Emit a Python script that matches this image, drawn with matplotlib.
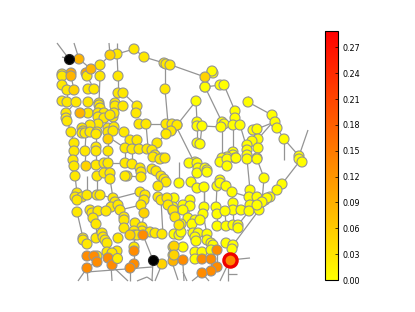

import numpy as np
import matplotlib
matplotlib.use("Agg")
import matplotlib.pyplot as plt
from matplotlib.collections import LineCollection
from matplotlib.cm import ScalarMappable
from matplotlib.colors import Normalize

VMAX = 0.289
cbar_ticks = [0.00, 0.03, 0.06, 0.09, 0.12, 0.15, 0.18, 0.21, 0.24, 0.27]

# Nodes by colour band, in map units (x right, y down)
under_val = 0.10
under_x = [71, 86]
under_y = [73, 73]

bright_val = 0.002
bright_x = [205, 212, 213, 212, 205, 220, 224, 196, 248, 235, 272, 275, 277, 284, 235, 222, 224, 221,
            233, 240, 197, 197, 202, 177, 172, 172, 253, 257, 258, 252, 247, 258, 247, 247, 257,
            197, 200, 233, 233, 235, 227, 222, 299, 195, 189, 197, 198, 197, 205, 207, 207,
            220, 227, 236, 247, 257, 227, 179, 191, 197, 204, 217, 220, 220, 226, 232, 264, 250,
            282, 277, 299, 302, 174, 173, 173, 190, 183, 190, 183, 204, 216, 203, 217, 233, 233,
            225, 241, 249, 257, 250, 249, 259, 265, 270, 267, 262, 257, 188, 195, 192, 200, 181,
            217, 226, 233, 238, 238, 174, 179, 181, 193, 198, 195, 196, 207, 207, 211, 213, 226,
            233, 232, 173, 183, 195, 202, 211, 173, 195]
bright_y = [87, 72, 73, 71, 87, 85, 85, 101, 102, 111, 115, 122, 128, 139, 118, 122, 124, 127,
            125, 125, 122, 126, 126, 125, 125, 129, 130, 129, 139, 141, 145, 148, 150, 155, 158,
            143, 144, 152, 155, 158, 157, 158, 156, 162, 163, 163, 168, 173, 168, 170, 172,
            162, 159, 158, 159, 159, 166, 183, 182, 188, 187, 186, 180, 183, 186, 192, 178, 190,
            184, 190, 159, 162, 198, 207, 211, 200, 205, 206, 210, 207, 207, 214, 214, 203, 210,
            211, 210, 197, 197, 205, 211, 210, 200, 197, 198, 202, 205, 218, 220, 224, 220, 224,
            226, 226, 225, 225, 228, 234, 235, 232, 233, 233, 237, 241, 234, 240, 243, 245, 243,
            245, 249, 247, 247, 252, 252, 250, 255, 259]

yellow_val = 0.026
yellow_x = [62, 62, 87, 100, 100, 117, 134, 144, 164, 166, 170, 118, 62, 67, 88, 94, 165, 118, 123,
            62, 67, 76, 88, 99, 99, 100, 115, 115, 123, 137, 136, 66, 88, 98, 104, 98, 104, 113,
            114, 110, 66, 67, 139, 146, 166, 172, 177, 171, 166, 98, 90, 108, 114, 108, 113,
            82, 83, 82, 85, 90, 97, 96, 71, 124, 130, 137, 157, 74, 74, 85, 96, 96, 108, 125,
            132, 139, 147, 152, 155, 153, 162, 160, 165, 73, 74, 96, 104, 108, 125, 132, 140, 141,
            152, 156, 75, 97, 104, 110, 110, 127, 125, 141, 161, 164, 166, 158, 77, 75, 82, 77,
            87, 97, 100, 140, 145, 144, 141, 158, 161, 167, 113, 115, 111, 118, 120, 124, 124,
            77, 90, 92, 98, 106, 93, 96, 168, 173, 175, 135, 124, 142, 142, 134, 134, 137, 150,
            155, 162, 179, 83, 83, 87, 96, 102, 103, 105, 107, 118, 134, 107, 117, 112, 97]
yellow_y = [74, 76, 76, 65, 76, 54, 49, 57, 63, 64, 65, 76, 85, 90, 89, 89, 89, 93, 93,
            101, 102, 102, 102, 103, 105, 108, 103, 106, 106, 106, 113, 113, 113, 113, 113, 117, 118, 117,
            113, 115, 118, 121, 124, 124, 124, 124, 125, 131, 134, 124, 125, 128, 127, 132, 131,
            128, 131, 133, 133, 132, 132, 134, 132, 132, 140, 140, 143, 143, 151, 151, 147, 151, 151, 148,
            149, 149, 149, 150, 155, 157, 158, 159, 158, 160, 166, 165, 163, 163, 163, 164, 168, 172,
            169, 171, 176, 176, 173, 173, 179, 176, 176, 177, 176, 179, 182, 186, 193, 197, 197, 200,
            195, 195, 195, 192, 195, 200, 205, 197, 200, 198, 198, 202, 207, 205, 210, 217, 220,
            212, 210, 213, 211, 211, 218, 224, 205, 210, 217, 223, 228, 227, 231, 231, 235, 235, 232,
            233, 234, 225, 238, 240, 244, 238, 233, 237, 240, 243, 238, 247, 252, 251, 253, 256]

deep_val = 0.085
deep_x = [79, 91, 80, 173, 71]
deep_y = [59, 69, 113, 261, 76]

amber_val = 0.05
amber_x = [110, 74, 108, 205, 86, 144, 130, 174, 162, 174]
amber_y = [55, 90, 139, 77, 166, 213, 235, 246, 264, 255]

orange_val = 0.13
orange_x = [143, 134, 87, 94, 97, 108, 112, 87, 134, 130, 183, 202, 211, 217, 217, 211, 202]
orange_y = [235, 251, 256, 256, 262, 258, 265, 268, 264, 268, 260, 259, 259, 250, 267, 271, 273]

# Yellow node that sits over the orange ones
top_val = 0.02
top_x = [117]
top_y = [258]

# Nodes with no score, drawn black
black_x = [69, 153]
black_y = [59, 260]

# The highlighted source node
hub_x = [230]
hub_y = [260]
hub_val = [0.135]

# Edges as start and end points
edge_x0 = [57, 74, 109, 117, 117, 134, 144, 100, 79, 117, 100, 91, 87, 71, 165, 165, 123, 118, 137, 146, 146,
           100, 88, 80, 88, 67, 62, 67, 76, 71, 71, 74, 85, 96, 108, 108, 113, 124, 157, 171, 205, 205, 205, 212,
           205, 224, 196, 196, 248, 248, 235, 272, 277, 284, 284, 299, 202, 222, 233, 240, 257, 258, 178, 197, 202,
           258, 257, 264, 247, 250, 299, 282, 277, 259, 249, 207, 217, 216, 204, 191, 197, 179, 204, 217, 232, 226,
           232, 190, 233, 225, 230, 230, 230, 228, 228, 217, 211, 202, 202, 183, 173, 211, 217, 87, 87, 96, 87, 111,
           111, 153, 153, 162, 130, 134, 134, 77, 96, 100, 117, 120, 127, 108, 110, 77, 87, 97, 141, 144, 161, 175,
           74, 86, 96, 108, 125, 132, 141, 150, 134, 179, 187, 69, 137, 147, 183]
edge_y0 = [43, 43, 43, 43, 54, 49, 57, 65, 59, 54, 76, 69, 76, 76, 64, 89, 93, 76, 106, 124, 124,
           76, 102, 113, 113, 90, 76, 85, 102, 132, 132, 143, 151, 151, 140, 140, 140, 132, 143, 65, 77, 77, 87, 72,
           87, 85, 101, 101, 102, 96, 111, 115, 128, 139, 139, 156, 126, 127, 125, 125, 129, 139, 130, 126, 126,
           148, 159, 178, 159, 190, 162, 184, 190, 210, 211, 234, 214, 207, 187, 182, 188, 162, 187, 186, 192, 186,
           192, 206, 210, 211, 260, 260, 260, 268, 274, 267, 271, 273, 273, 265, 265, 259, 250, 268, 268, 262, 272, 265,
           265, 260, 260, 264, 268, 251, 235, 212, 224, 195, 198, 210, 176, 163, 179, 193, 176, 176, 192, 213, 200, 217,
           143, 151, 151, 151, 148, 149, 206, 231, 222, 225, 230, 59, 281, 277, 272]
edge_x1 = [69, 79, 110, 117, 134, 144, 164, 110, 91, 118, 100, 87, 94, 74, 165, 168, 137, 118, 136, 166, 148,
           99, 99, 88, 98, 67, 67, 67, 66, 67, 74, 74, 86, 96, 108, 108, 125, 130, 166, 205, 205, 212, 220, 205,
           222, 235, 177, 197, 272, 248, 235, 275, 284, 284, 299, 308, 222, 222, 233, 246, 272, 272, 193, 197, 200,
           258, 264, 262, 250, 250, 282, 277, 265, 233, 238, 203, 217, 216, 204, 197, 204, 179, 204, 216, 233, 232,
           249, 188, 233, 226, 250, 233, 220, 228, 237, 211, 202, 192, 209, 184, 178, 211, 217, 88, 78, 87, 152, 128,
           112, 143, 152, 155, 130, 134, 134, 83, 96, 113, 140, 141, 141, 125, 113, 75, 87, 97, 141, 142, 163, 180,
           74, 85, 96, 108, 125, 132, 141, 135, 150, 180, 196, 62, 147, 153, 187]
edge_y1 = [59, 59, 55, 54, 49, 57, 63, 55, 69, 76, 65, 76, 89, 90, 89, 123, 106, 93, 113, 124, 147,
           103, 103, 113, 113, 102, 85, 90, 113, 121, 143, 151, 133, 133, 127, 150, 148, 140, 134, 77, 87, 73, 85, 87,
           122, 111, 125, 122, 115, 102, 118, 122, 139, 160, 156, 130, 127, 157, 152, 145, 123, 123, 160, 143, 144,
           158, 178, 202, 190, 197, 184, 190, 200, 245, 225, 214, 226, 214, 207, 188, 187, 183, 207, 207, 203, 192,
           197, 218, 225, 226, 258, 250, 281, 281, 274, 259, 273, 281, 281, 281, 280, 271, 267, 281, 281, 268, 267, 281,
           281, 235, 281, 281, 281, 264, 251, 238, 238, 198, 192, 205, 177, 163, 198, 176, 195, 195, 205, 226, 235, 234,
           160, 166, 165, 163, 163, 164, 213, 223, 231, 234, 233, 57, 277, 281, 281]


def band(ax, xs, ys, val):
    """Draw one band of nodes in the shared colour scale."""
    ax.scatter(xs, ys, c=np.full(len(xs), val), cmap="autumn_r", vmin=0, vmax=VMAX,
               s=52, edgecolors="#949494", linewidths=0.8, zorder=3)


fig = plt.figure(figsize=(4.15, 3.12), dpi=100)
ax = fig.add_axes([0, 0, 1, 1])
ax.set_xlim(0, 415)
ax.set_ylim(312, 0)
ax.axis("off")

segments = [[(a, b), (c, d)] for a, b, c, d in zip(edge_x0, edge_y0, edge_x1, edge_y1)]
ax.add_collection(LineCollection(segments, colors="#949494", linewidths=0.9, zorder=1))

band(ax, under_x, under_y, under_val)
band(ax, bright_x, bright_y, bright_val)
band(ax, yellow_x, yellow_y, yellow_val)
band(ax, deep_x, deep_y, deep_val)
band(ax, amber_x, amber_y, amber_val)
band(ax, orange_x, orange_y, orange_val)
band(ax, top_x, top_y, top_val)
ax.scatter(black_x, black_y, c="black", s=52, edgecolors="#222222", linewidths=0.8, zorder=4)
ax.scatter(hub_x, hub_y, c=hub_val, cmap="autumn_r", vmin=0, vmax=VMAX, s=90,
           edgecolors="#ee0000", linewidths=2.4, zorder=5)

# Colour bar on the right
cax = fig.add_axes([325 / 415, 1 - 280 / 312, 13 / 415, 249 / 312])
sm = ScalarMappable(norm=Normalize(0, VMAX), cmap="autumn_r")
cbar = fig.colorbar(sm, cax=cax, ticks=cbar_ticks)
cbar.ax.set_yticklabels(["%.2f" % t for t in cbar_ticks])
cbar.ax.tick_params(labelsize=5.8, length=2.5, width=0.5, direction="in", right=True, left=False, pad=3)
cbar.outline.set_linewidth(0.8)

fig.savefig("out.png", dpi=100)
